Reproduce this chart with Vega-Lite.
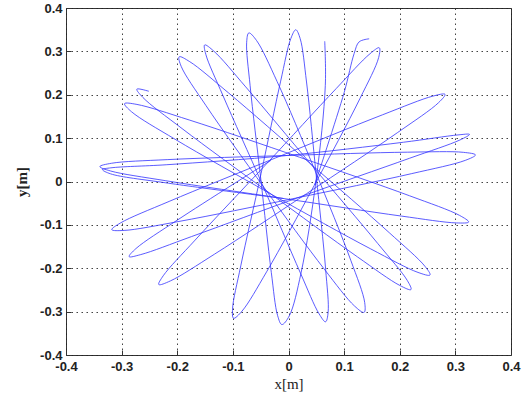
{
"$schema": "https://vega.github.io/schema/vega-lite/v6.json",
"width": 445, "height": 347,
"autosize": {"type": "none"},
"padding": {"left": 66, "top": 8, "right": 12, "bottom": 43},
"background": "white",
"config": {"view": {"stroke": "#333333", "strokeWidth": 1}},
"data": {"values": [
{"s":1,"i":1,"x":-0.251,"y":0.208},{"s":1,"i":2,"x":-0.2726,"y":0.213},{"s":1,"i":3,"x":-0.2619,"y":0.1939},{"s":1,"i":4,"x":-0.1914,"y":0.1221},{"s":1,"i":5,"x":-0.0342,"y":-0.0265},{"s":1,"i":6,"x":0.1241,"y":-0.1739},{"s":1,"i":7,"x":0.2002,"y":-0.2397},{"s":1,"i":8,"x":0.2202,"y":-0.2491},{"s":1,"i":9,"x":0.2136,"y":-0.2283},{"s":1,"i":10,"x":0.1605,"y":-0.143},
{"s":1,"i":11,"x":0.0418,"y":0.0375},{"s":1,"i":12,"x":-0.0769,"y":0.2181},{"s":1,"i":13,"x":-0.1342,"y":0.3005},{"s":1,"i":14,"x":-0.1507,"y":0.3148},{"s":1,"i":15,"x":-0.1487,"y":0.2934},{"s":1,"i":16,"x":-0.1178,"y":0.198},{"s":1,"i":17,"x":-0.0473,"y":-0.0061},{"s":1,"i":18,"x":0.0214,"y":-0.2108},{"s":1,"i":19,"x":0.055,"y":-0.3052},{"s":1,"i":20,"x":0.0666,"y":-0.3234},
{"s":1,"i":21,"x":0.0712,"y":-0.302},{"s":1,"i":22,"x":0.0667,"y":-0.2016},{"s":1,"i":23,"x":0.0498,"y":0.014},{"s":1,"i":24,"x":0.0324,"y":0.2294},{"s":1,"i":25,"x":0.021,"y":0.3293},{"s":1,"i":26,"x":0.0131,"y":0.3498},{"s":1,"i":27,"x":0.0043,"y":0.33},{"s":1,"i":28,"x":-0.0141,"y":0.2314},{"s":1,"i":29,"x":-0.0493,"y":0.0183},{"s":1,"i":30,"x":-0.0858,"y":-0.1945},
{"s":1,"i":31,"x":-0.1006,"y":-0.2938},{"s":1,"i":32,"x":-0.0988,"y":-0.3153},{"s":1,"i":33,"x":-0.0836,"y":-0.2989},{"s":1,"i":34,"x":-0.0394,"y":-0.2083},{"s":1,"i":35,"x":0.0461,"y":-0.0094},{"s":1,"i":36,"x":0.1283,"y":0.1909},{"s":1,"i":37,"x":0.1621,"y":0.2859},{"s":1,"i":38,"x":0.1632,"y":0.3083},{"s":1,"i":39,"x":0.1465,"y":0.2945},{"s":1,"i":40,"x":0.0859,"y":0.2145},
{"s":1,"i":41,"x":-0.0405,"y":0.0394},{"s":1,"i":42,"x":-0.1678,"y":-0.135},{"s":1,"i":43,"x":-0.2252,"y":-0.2173},{"s":1,"i":44,"x":-0.2332,"y":-0.2375},{"s":1,"i":45,"x":-0.2125,"y":-0.2293},{"s":1,"i":46,"x":-0.133,"y":-0.1675},{"s":1,"i":47,"x":0.0324,"y":-0.0281},{"s":1,"i":48,"x":0.1964,"y":0.1131},{"s":1,"i":49,"x":0.2699,"y":0.1819},{"s":1,"i":50,"x":0.2814,"y":0.2009},
{"s":1,"i":51,"x":0.2597,"y":0.1969},{"s":1,"i":52,"x":0.1689,"y":0.1537},{"s":1,"i":53,"x":-0.0231,"y":0.0544},{"s":1,"i":54,"x":-0.2146,"y":-0.0459},{"s":1,"i":55,"x":-0.3021,"y":-0.0956},{"s":1,"i":56,"x":-0.3177,"y":-0.111},{"s":1,"i":57,"x":-0.2955,"y":-0.1128},{"s":1,"i":58,"x":-0.1969,"y":-0.0921},{"s":1,"i":59,"x":0.0127,"y":-0.0384},{"s":1,"i":60,"x":0.2216,"y":0.0182},
{"s":1,"i":61,"x":0.3177,"y":0.0487},{"s":1,"i":62,"x":0.3361,"y":0.0612},{"s":1,"i":63,"x":0.3148,"y":0.0672},{"s":1,"i":64,"x":0.2142,"y":0.0676},{"s":1,"i":65,"x":-0.002,"y":0.06},{"s":1,"i":66,"x":-0.2181,"y":0.0504},{"s":1,"i":67,"x":-0.3184,"y":0.042},{"s":1,"i":68,"x":-0.3391,"y":0.0343},{"s":1,"i":69,"x":-0.3197,"y":0.0242},{"s":1,"i":70,"x":-0.2217,"y":0.002},
{"s":1,"i":71,"x":-0.0095,"y":-0.0391},{"s":1,"i":72,"x":0.2029,"y":-0.0797},{"s":1,"i":73,"x":0.3021,"y":-0.0955},{"s":1,"i":74,"x":0.3239,"y":-0.0934},{"s":1,"i":75,"x":0.3076,"y":-0.0782},{"s":1,"i":76,"x":0.2176,"y":-0.0329},{"s":1,"i":77,"x":0.0202,"y":0.0558},{"s":1,"i":78,"x":-0.1784,"y":0.1418},{"s":1,"i":79,"x":-0.2725,"y":0.1777},{"s":1,"i":80,"x":-0.2947,"y":0.1795},
{"s":1,"i":81,"x":-0.2822,"y":0.1608},{"s":1,"i":82,"x":-0.2039,"y":0.0974},{"s":1,"i":83,"x":-0.0292,"y":-0.0306},{"s":1,"i":84,"x":0.1478,"y":-0.1554},{"s":1,"i":85,"x":0.2328,"y":-0.2096},{"s":1,"i":86,"x":0.2544,"y":-0.2156},{"s":1,"i":87,"x":0.2453,"y":-0.1955},{"s":1,"i":88,"x":0.1811,"y":-0.118},{"s":1,"i":89,"x":0.0372,"y":0.0434},{"s":1,"i":90,"x":-0.1076,"y":0.204},
{"s":1,"i":91,"x":-0.1775,"y":0.2762},{"s":1,"i":92,"x":-0.1965,"y":0.2875},{"s":1,"i":93,"x":-0.1929,"y":0.2654},{"s":1,"i":94,"x":-0.1483,"y":0.1749},{"s":1,"i":95,"x":-0.0436,"y":-0.0146},{"s":1,"i":96,"x":0.0644,"y":-0.2022},{"s":1,"i":97,"x":0.1188,"y":-0.2872},{"s":1,"i":98,"x":0.1359,"y":-0.3017},{"s":1,"i":99,"x":0.137,"y":-0.2792},{"s":1,"i":100,"x":0.1119,"y":-0.1815},
{"s":1,"i":101,"x":0.0476,"y":0.0253},{"s":1,"i":102,"x":-0.0206,"y":0.2308},{"s":1,"i":103,"x":-0.0573,"y":0.3248},{"s":1,"i":104,"x":-0.0713,"y":0.3425},{"s":1,"i":105,"x":-0.0752,"y":0.321},{"s":1,"i":106,"x":-0.069,"y":0.2208},{"s":1,"i":107,"x":-0.0498,"y":0.0056},{"s":1,"i":108,"x":-0.0309,"y":-0.2096},{"s":1,"i":109,"x":-0.0195,"y":-0.3094},{"s":1,"i":110,"x":-0.0119,"y":-0.3298},
{"s":1,"i":111,"x":0.0013,"y":-0.31},{"s":1,"i":112,"x":0.0226,"y":-0.2106},{"s":1,"i":113,"x":0.0498,"y":0.005},{"s":1,"i":114,"x":0.0662,"y":0.2217},{"s":1,"i":115,"x":0.0651,"y":0.3233},
{"s":2,"i":1,"x":-0.0315,"y":0.0488},{"s":2,"i":2,"x":-0.1989,"y":-0.0882},{"s":2,"i":3,"x":-0.2743,"y":-0.1547},{"s":2,"i":4,"x":-0.2865,"y":-0.1732},{"s":2,"i":5,"x":-0.2656,"y":-0.1685},{"s":2,"i":6,"x":-0.1744,"y":-0.127},{"s":2,"i":7,"x":0.0209,"y":-0.0354},{"s":2,"i":8,"x":0.2175,"y":0.0535},{"s":2,"i":9,"x":0.3083,"y":0.0958},{"s":2,"i":10,"x":0.3254,"y":0.1086},
{"s":2,"i":11,"x":0.3048,"y":0.1074},{"s":2,"i":12,"x":0.2067,"y":0.0905},{"s":2,"i":13,"x":-0.006,"y":0.0596},{"s":2,"i":14,"x":-0.2199,"y":0.0386},{"s":2,"i":15,"x":-0.3193,"y":0.0315},{"s":2,"i":16,"x":-0.3345,"y":0.0275},{"s":2,"i":17,"x":-0.3199,"y":0.0177},{"s":2,"i":18,"x":-0.2214,"y":-0.0029},{"s":2,"i":19,"x":-0.0083,"y":-0.0393},
{"s":3,"i":1,"x":0.047,"y":-0.008},{"s":3,"i":2,"x":0.1,"y":0.205},{"s":3,"i":3,"x":0.118,"y":0.295},{"s":3,"i":4,"x":0.127,"y":0.322},{"s":3,"i":5,"x":0.145,"y":0.329}
]},
"mark": {"type": "line", "interpolate": "catmull-rom", "stroke": "#3535ff", "strokeWidth": 0.9, "opacity": 0.9},
"encoding": {
  "x": {"field": "x", "type": "quantitative",
    "scale": {"domain": [-0.4, 0.4], "nice": false, "zero": false},
    "axis": {"values": [-0.4,-0.3,-0.2,-0.1,0,0.1,0.2,0.3,0.4], "format": ".1~f",
      "labelExpr": "replace(datum.label, '−', '-')",
      "title": "x[m]", "domain": false,
      "grid": true, "gridColor": "#222222", "gridDash": [1.5,3.5], "gridOpacity": 0.85, "gridWidth": 1,
      "tickSize": -5, "tickColor": "#333333", "labelPadding": 10, "labelFlush": false,
      "labelFont": "Liberation Sans", "labelFontSize": 13, "labelFontWeight": "bold", "labelColor": "#222222",
      "titleFont": "Liberation Serif", "titleFontSize": 15, "titleFontWeight": "normal", "titleColor": "#222222", "titlePadding": 3}},
  "y": {"field": "y", "type": "quantitative",
    "scale": {"domain": [-0.4, 0.4], "nice": false, "zero": false},
    "axis": {"values": [-0.4,-0.3,-0.2,-0.1,0,0.1,0.2,0.3,0.4], "format": ".1~f",
      "labelExpr": "replace(datum.label, '−', '-')",
      "title": "y[m]", "domain": false,
      "grid": true, "gridColor": "#222222", "gridDash": [1.5,3.5], "gridOpacity": 0.85, "gridWidth": 1,
      "tickSize": -5, "tickColor": "#333333", "labelPadding": 9, "labelFlush": false,
      "labelFont": "Liberation Sans", "labelFontSize": 13, "labelFontWeight": "bold", "labelColor": "#222222",
      "titleFont": "Liberation Serif", "titleFontSize": 15, "titleFontWeight": "bold", "titleColor": "#222222", "titlePadding": 10}},
  "detail": {"field": "s", "type": "nominal"},
  "order": {"field": "i", "type": "quantitative"}
}
}
